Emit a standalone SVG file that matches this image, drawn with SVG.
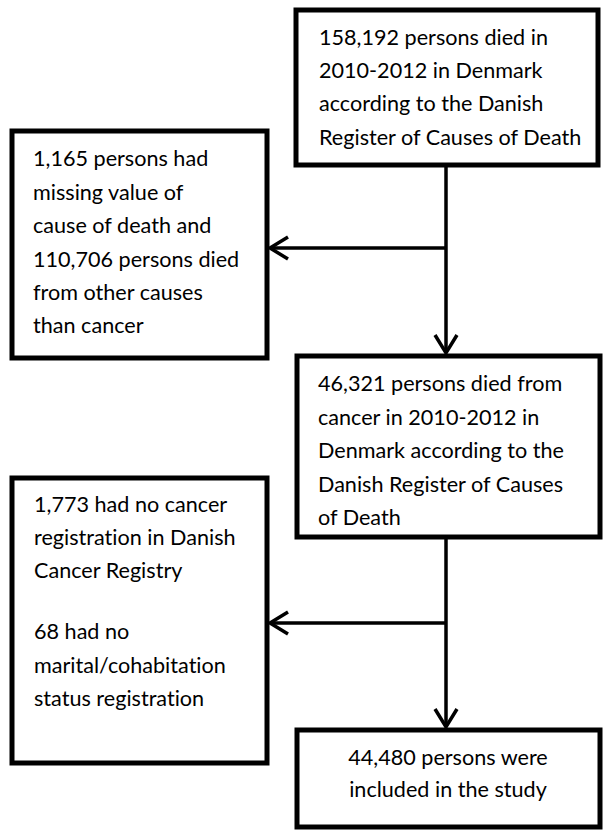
<svg xmlns="http://www.w3.org/2000/svg" width="606" height="831" viewBox="0 0 606 831">
  <style>
    .box { fill: #ffffff; stroke: #000000; stroke-width: 5; }
    .lbl { font-family: Lato, "Open Sans", "Liberation Sans", sans-serif; font-size: 21.6px; fill: #000000; font-variant-ligatures: none; }
    .ctr { text-anchor: middle; }
    .conn { fill: none; stroke: #000000; stroke-width: 3.5; }
  </style>
  <defs>
    <marker id="chev" markerUnits="userSpaceOnUse" viewBox="-22 -14 26 28" markerWidth="26" markerHeight="28" refX="0" refY="0" orient="auto">
      <path d="M-18,-11 L0,0 L-18,11" fill="none" stroke="#000000" stroke-width="3.5"/>
    </marker>
  </defs>

  <g id="connectors">
    <line class="conn" x1="446" y1="165" x2="446" y2="353" marker-end="url(#chev)"/>
    <line class="conn" x1="446" y1="248" x2="270" y2="248" marker-end="url(#chev)"/>
    <line class="conn" x1="446" y1="537" x2="446" y2="727" marker-end="url(#chev)"/>
    <line class="conn" x1="446" y1="623" x2="270" y2="623" marker-end="url(#chev)"/>
  </g>

  <g id="node-total">
    <rect class="box" x="296" y="10" width="302" height="155"/>
    <text class="lbl" x="319" y="45">158,192 persons died in</text>
    <text class="lbl" x="319" y="78">2010-2012 in Denmark</text>
    <text class="lbl" x="319" y="111">according to the Danish</text>
    <text class="lbl" x="319" y="145">Register of Causes of Death</text>
  </g>

  <g id="node-excluded-1">
    <rect class="box" x="12" y="131" width="255" height="227"/>
    <text class="lbl" x="33" y="166">1,165 persons had</text>
    <text class="lbl" x="33" y="200">missing value of</text>
    <text class="lbl" x="33" y="233">cause of death and</text>
    <text class="lbl" x="33" y="267">110,706 persons died</text>
    <text class="lbl" x="33" y="300">from other causes</text>
    <text class="lbl" x="33" y="333">than cancer</text>
  </g>

  <g id="node-cancer">
    <rect class="box" x="297" y="356" width="303" height="181"/>
    <text class="lbl" x="318" y="391">46,321 persons died from</text>
    <text class="lbl" x="318" y="425">cancer in 2010-2012 in</text>
    <text class="lbl" x="318" y="458">Denmark according to the</text>
    <text class="lbl" x="318" y="492">Danish Register of Causes</text>
    <text class="lbl" x="318" y="525">of Death</text>
  </g>

  <g id="node-excluded-2">
    <rect class="box" x="12" y="478" width="255" height="285"/>
    <text class="lbl" x="34" y="512">1,773 had no cancer</text>
    <text class="lbl" x="34" y="545">registration in Danish</text>
    <text class="lbl" x="34" y="578">Cancer Registry</text>
    <text class="lbl" x="34" y="639">68 had no</text>
    <text class="lbl" x="34" y="673">marital/cohabitation</text>
    <text class="lbl" x="34" y="706">status registration</text>
  </g>

  <g id="node-included">
    <rect class="box" x="297" y="730" width="303" height="97"/>
    <text class="lbl ctr" x="448" y="765">44,480 persons were</text>
    <text class="lbl ctr" x="448" y="797">included in the study</text>
  </g>
</svg>
